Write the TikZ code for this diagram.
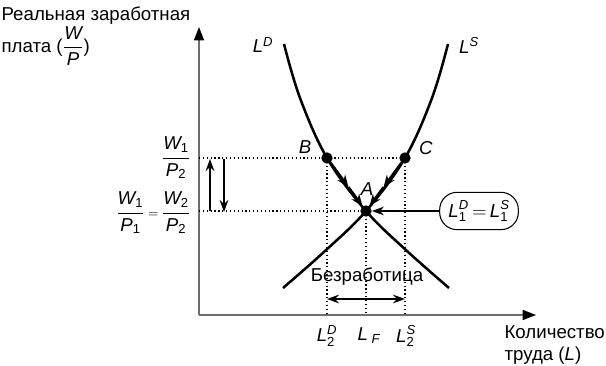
\documentclass[tikz,border=0pt]{standalone}
\usepackage{amsmath}
\usepackage{fontspec}
\setmainfont{Liberation Sans}
\usetikzlibrary{arrows.meta,positioning,calc}
\definecolor{AxisGray}{HTML}{6E6E6E}
\newcommand{\iv}[1]{\text{\itshape #1}}
\tikzset{
  axis/.style={draw=AxisGray,line width=1.3pt,-{Triangle[length=10pt,width=7.5pt,black]}},
  curve/.style={draw=black,line width=1.9pt},
  guide/.style={draw=black,line width=0.9pt,dotted},
  dot/.style={circle,fill=black,inner sep=0pt,minimum size=8.5pt},
  move/.style={-{Stealth[length=9pt,width=7pt]},draw=black,line width=1.9pt},
  pointer/.style={draw=black,line width=0.9pt},
  lbl/.style={font=\fontsize{14}{16}\selectfont,inner sep=1pt},
  pill/.style={draw=black,line width=0.8pt,rounded corners=13pt,minimum width=59pt,minimum height=28pt,inner sep=2pt,font=\fontsize{14}{16}\selectfont},
}
\begin{document}
\begin{tikzpicture}[x=0.75pt,y=-0.75pt]
  \useasboundingbox (0,0) rectangle (606,366);
  % axes
  \coordinate (origin) at (199,315);
  \coordinate (ytop) at (199,27);
  \coordinate (xend) at (536,315);
  \draw[axis] (origin) -- (ytop);
  \draw[axis] (origin) -- (xend);
  \node[lbl,align=left,anchor=north west] (ytitle) at (0,5) {Реальная заработная\\[1pt]плата ($\dfrac{\iv{W}}{\iv{P}}$)};
  \node[lbl,align=left,anchor=west] (xtitle1) at (503,332) {Количество};
  \node[lbl,align=left,anchor=west] (xtitle2) at (503,356) {труда (\textit{L})};

  % points
  \node[dot] (A) at (366,211) {};
  \node[dot] (B) at (327,158) {};
  \node[dot] (C) at (405,158) {};
  \node[lbl] (Alab) at (367,189) {\textit{A}};
  \node[lbl] (Blab) at (305,147) {\textit{B}};
  \node[lbl] (Clab) at (426,148) {\textit{C}};

  % guides
  \coordinate (yB) at (199,158);
  \coordinate (yA) at (199,211);
  \coordinate (xB) at (327,315);
  \coordinate (xA) at (366,315);
  \coordinate (xC) at (405,315);
  \draw[guide] (yB) -- (C.center);
  \draw[guide] (yA) -- (A.center);
  \draw[guide] (B.center) -- (xB);
  \draw[guide] (A.center) -- (xA);
  \draw[guide] (C.center) -- (xC);

  % curves
  \draw[curve] plot[smooth,tension=0.6] coordinates {(284,44) (300,98) (327,158) (366,211) (407,251) (449,288)};
  \draw[curve] plot[smooth,tension=0.6] coordinates {(448,44) (432,98) (405,158) (366,211) (325,251) (283,288)};
  \node[lbl] (LD) at (263,45) {\textit{L}\textsuperscript{\textit{D}}};
  \node[lbl] (LS) at (469,45) {\textit{L}\textsuperscript{\textit{S}}};

  % movement towards A
  \coordinate (BAmid) at ($(B)!0.55!(A)$);
  \coordinate (CAmid) at ($(C)!0.55!(A)$);
  \draw[move] (B) -- (BAmid);
  \draw[move] (BAmid) -- (A);
  \draw[move] (C) -- (CAmid);
  \draw[move] (CAmid) -- (A);

  % equilibrium box
  \node[pill] (eq) at (479,211) {$\iv{L}^{\iv{D}}_{\text{1}}\,{=}\,\iv{L}^{\iv{S}}_{\text{1}}$};
  \draw[pointer,-{Stealth[length=9pt,width=6.5pt]}] (eq) -- (A);

  % wage labels
  \node[lbl,anchor=east] (w12) at (192,158) {$\dfrac{\iv{W}_{\text{1}}}{\iv{P}_{\text{2}}}$};
  \node[lbl,anchor=east] (w11) at (192,213) {$\dfrac{\iv{W}_{\text{1}}}{\iv{P}_{\text{1}}}\,{\scriptstyle=}\,\dfrac{\iv{W}_{\text{2}}}{\iv{P}_{\text{2}}}$};
  \coordinate (upS) at (210,211);
  \coordinate (upE) at (210,159);
  \coordinate (dnS) at (224,159);
  \coordinate (dnE) at (224,212);
  \draw[pointer,-{Stealth[length=9pt,width=6.5pt]}] (upS) -- (upE);
  \draw[pointer,-{Stealth[length=9pt,width=6.5pt]}] (dnS) -- (dnE);

  % unemployment
  \node[lbl] (unemp) at (367,277) {Безработица};
  \coordinate (uL) at (327,299);
  \coordinate (uR) at (405,299);
  \draw[pointer,{Stealth[length=9pt,width=6.5pt]}-{Stealth[length=9pt,width=6.5pt]}] (uL) -- (uR);

  % quantity labels
  \node[lbl] (L2D) at (327,336) {$\iv{L}^{\iv{D}}_{\text{2}}$};
  \node[lbl] (LF) at (369,336) {$\iv{L}_{\;\iv{F}}$};
  \node[lbl] (L2S) at (406,336) {$\iv{L}^{\iv{S}}_{\text{2}}$};
\end{tikzpicture}
\end{document}
